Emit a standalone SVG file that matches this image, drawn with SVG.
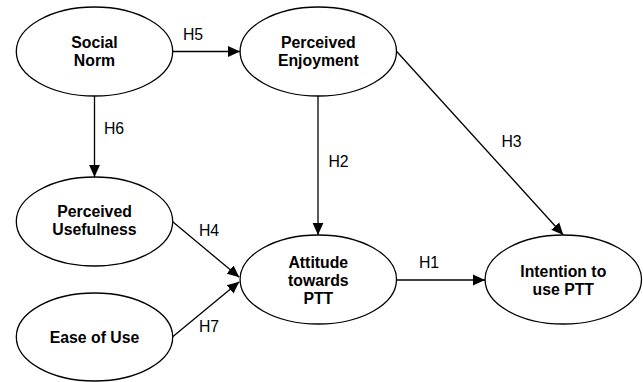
<svg xmlns="http://www.w3.org/2000/svg" width="643" height="382" viewBox="0 0 643 382">
<style>
.node ellipse{fill:#fff;stroke:#000;stroke-width:1.3}
.node text{font-family:"Liberation Sans",Arial,Helvetica,sans-serif;font-weight:bold;font-size:15.8px;text-anchor:middle;fill:#000}
.edges path{fill:none;stroke:#000;stroke-width:1.3}
.lbl{font-family:"Liberation Sans",Arial,Helvetica,sans-serif;font-size:15.8px;text-anchor:middle;fill:#000}
</style>
<defs>
<marker id="arr" markerUnits="userSpaceOnUse" markerWidth="12" markerHeight="12" viewBox="0 0 10 10" refX="10" refY="5" orient="auto">
<path d="M0,0.5 L10,5 L0,9.5 Z" fill="#000"/>
</marker>
</defs>
<rect width="643" height="382" fill="#fff"/>
<g class="edges">
<path d="M172.7,51.5 L240,51.5" marker-end="url(#arr)"/>
<path d="M94.5,96 L94.5,177" marker-end="url(#arr)"/>
<path d="M318,96 L318,235" marker-end="url(#arr)"/>
<path d="M396.7,51.5 L563.3,235" marker-end="url(#arr)"/>
<path d="M172.7,221.7 L239.3,277.3" marker-end="url(#arr)"/>
<path d="M172.7,336.7 L239.3,281.7" marker-end="url(#arr)"/>
<path d="M396.7,280 L485,280" marker-end="url(#arr)"/>
<text class="lbl" x="193" y="39.5">H5</text>
<text class="lbl" x="114" y="133.5">H6</text>
<text class="lbl" x="338.5" y="166.5">H2</text>
<text class="lbl" x="511.5" y="146.5">H3</text>
<text class="lbl" x="209" y="235.5">H4</text>
<text class="lbl" x="209" y="332">H7</text>
<text class="lbl" x="429" y="268">H1</text>
</g>
<g id="social-norm" class="node">
<ellipse cx="94.5" cy="51.5" rx="78.2" ry="44.5"/>
<text x="94.5" y="47.5">Social</text>
<text x="94.5" y="65.5">Norm</text>
</g>
<g id="perceived-enjoyment" class="node">
<ellipse cx="318.3" cy="51.5" rx="78.2" ry="44.5"/>
<text x="318.3" y="47.5">Perceived</text>
<text x="318.3" y="65.5">Enjoyment</text>
</g>
<g id="perceived-usefulness" class="node">
<ellipse cx="94.5" cy="221.5" rx="78.2" ry="44.5"/>
<text x="94.5" y="216.5">Perceived</text>
<text x="94.5" y="234.5">Usefulness</text>
</g>
<g id="ease-of-use" class="node">
<ellipse cx="94.5" cy="337" rx="78.2" ry="44"/>
<text x="94.5" y="342.5">Ease of Use</text>
</g>
<g id="attitude" class="node">
<ellipse cx="318.3" cy="279.5" rx="78.2" ry="44.5"/>
<text x="318.3" y="268">Attitude</text>
<text x="318.3" y="286">towards</text>
<text x="318.3" y="304">PTT</text>
</g>
<g id="intention" class="node">
<ellipse cx="563.3" cy="279.5" rx="78.2" ry="44.5"/>
<text x="563.3" y="276.5">Intention to</text>
<text x="563.3" y="294.5">use PTT</text>
</g>
</svg>
